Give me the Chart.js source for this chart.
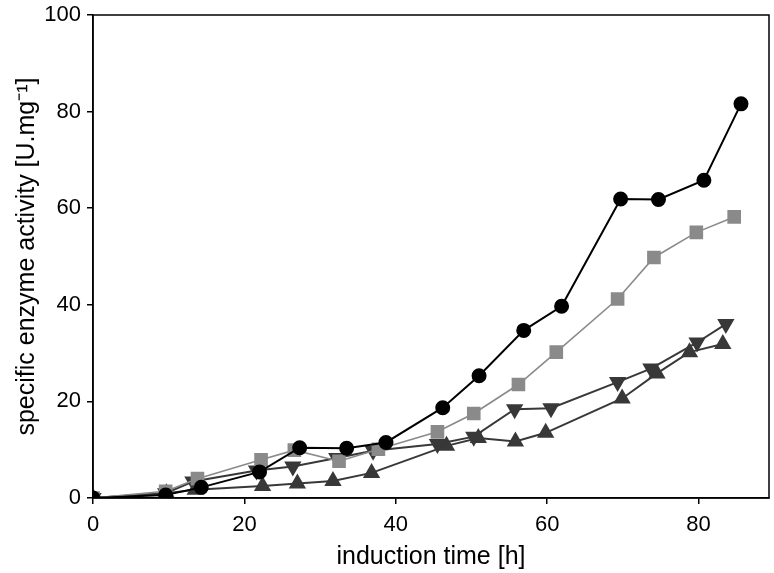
<!DOCTYPE html>
<html>
<head>
<meta charset="utf-8">
<script src="https://cdn.jsdelivr.net/npm/chart.js@4/dist/chart.umd.min.js"></script>
<style>
  html, body { margin: 0; padding: 0; background: #fff; }
  #wrap { width: 774px; height: 573px; }
</style>
</head>
<body>
<div id="wrap"><canvas id="activityChart"></canvas></div>
<script>
// values (x = induction time [h], y = specific activity)
const circleX = [0, 9.6, 14.3, 22.0, 27.3, 33.5, 38.7, 46.2, 51.0, 56.9, 61.9, 69.7, 74.7, 80.7, 85.6];
const circleY = [0, 0.6, 2.2, 5.4, 10.4, 10.3, 11.5, 18.7, 25.3, 34.7, 39.7, 61.9, 61.8, 65.8, 81.6];

const squareX = [0, 9.6, 13.8, 22.2, 26.6, 32.5, 37.7, 45.5, 50.3, 56.2, 61.2, 69.3, 74.1, 79.7, 84.7];
const squareY = [0, 1.4, 4.0, 7.9, 9.9, 7.6, 10.1, 13.7, 17.5, 23.5, 30.2, 41.2, 49.8, 55.0, 58.2];

const downX = [0, 9.6, 13.2, 21.6, 26.4, 32.2, 37.0, 45.5, 50.3, 55.7, 60.5, 69.3, 73.7, 79.8, 83.6];
const downY = [0, 1.0, 3.4, 5.7, 6.5, 8.3, 9.8, 11.2, 12.7, 18.4, 18.6, 24.0, 26.8, 32.2, 36.0];

const upX = [0, 9.7, 13.5, 22.4, 27.0, 31.7, 36.8, 46.7, 50.9, 55.8, 59.8, 69.9, 74.5, 78.8, 83.2];
const upY = [0, 1.0, 1.7, 2.5, 3.0, 3.5, 5.2, 10.8, 12.4, 11.7, 13.5, 20.6, 25.8, 30.2, 31.9];

const xTicks = [0, 20, 40, 60, 80];
const yTicks = [0, 20, 40, 60, 80, 100];

function toPoints(xs, ys) {
    return xs.map((x, i) => ({ x: x, y: ys[i] }));
}

// frame round the plot area (top and right sides of the box)
const boxPlugin = {
    id: 'box',
    afterDatasetsDraw(chart) {
        let a = chart.chartArea;
        let c = chart.ctx;
        c.save();
        c.strokeStyle = '#000';
        c.lineWidth = 1.5;
        c.strokeRect(a.left, a.top, a.right - a.left, a.bottom - a.top);
        c.restore();
    }
};

const family = "'Liberation Sans', Arial, sans-serif";
const tickFont = { family: family, size: 22 };
const titleFont = { family: family, size: 25 };

let ctx = document.getElementById('activityChart').getContext('2d');
new Chart(ctx, {
    type: 'line',
    data: {
        datasets: [
            {
                data: toPoints(circleX, circleY),
                borderColor: '#000', backgroundColor: '#000',
                borderWidth: 2, pointStyle: 'circle', pointRadius: 6.5
            },
            {
                data: toPoints(squareX, squareY),
                borderColor: '#8a8a8a', backgroundColor: '#8a8a8a',
                borderWidth: 1.6, pointStyle: 'rect', pointRadius: 8.5
            },
            {
                data: toPoints(downX, downY),
                borderColor: '#383838', backgroundColor: '#383838',
                borderWidth: 2, pointStyle: 'triangle', pointRotation: 180, pointRadius: 8
            },
            {
                data: toPoints(upX, upY),
                borderColor: '#383838', backgroundColor: '#383838',
                borderWidth: 2, pointStyle: 'triangle', pointRadius: 8
            }
        ]
    },
    options: {
        responsive: true,
        maintainAspectRatio: false,
        animation: false,
        layout: { autoPadding: false, padding: { top: 15, right: 5, left: 0, bottom: 0 } },
        plugins: {
            legend: { display: false },
            tooltip: { enabled: false }
        },
        scales: {
            x: {
                type: 'linear',
                min: 0,
                max: 89.3,
                afterFit: s => {
                    s.height = 75;
                    s.paddingLeft = 0;
                    s.paddingRight = 0;
                },
                afterBuildTicks: s => { s.ticks = xTicks.map(v => ({ value: v })); },
                border: { display: true, color: '#000', width: 1.5 },
                grid: { drawOnChartArea: false, color: '#000', tickLength: 6, lineWidth: 1.5 },
                ticks: { color: '#000', font: tickFont, padding: 8, maxRotation: 0 },
                title: {
                    display: true, text: 'induction time [h]', color: '#000',
                    font: titleFont, padding: { top: 0, bottom: 1 }
                }
            },
            y: {
                min: 0,
                max: 100,
                afterFit: s => {
                    s.width = 93;
                    s.paddingTop = 0;
                    s.paddingBottom = 0;
                },
                afterBuildTicks: s => { s.ticks = yTicks.map(v => ({ value: v })); },
                border: { display: true, color: '#000', width: 1.5 },
                grid: { drawOnChartArea: false, color: '#000', tickLength: 6, lineWidth: 1.5 },
                ticks: { color: '#000', font: tickFont, padding: 6 },
                title: {
                    display: true, text: 'specific enzyme activity [U.mg\u207B\u00B9]', color: '#000',
                    font: titleFont, padding: { top: 12, bottom: 0 }
                }
            }
        }
    },
    plugins: [boxPlugin]
});
</script>
</body>
</html>
